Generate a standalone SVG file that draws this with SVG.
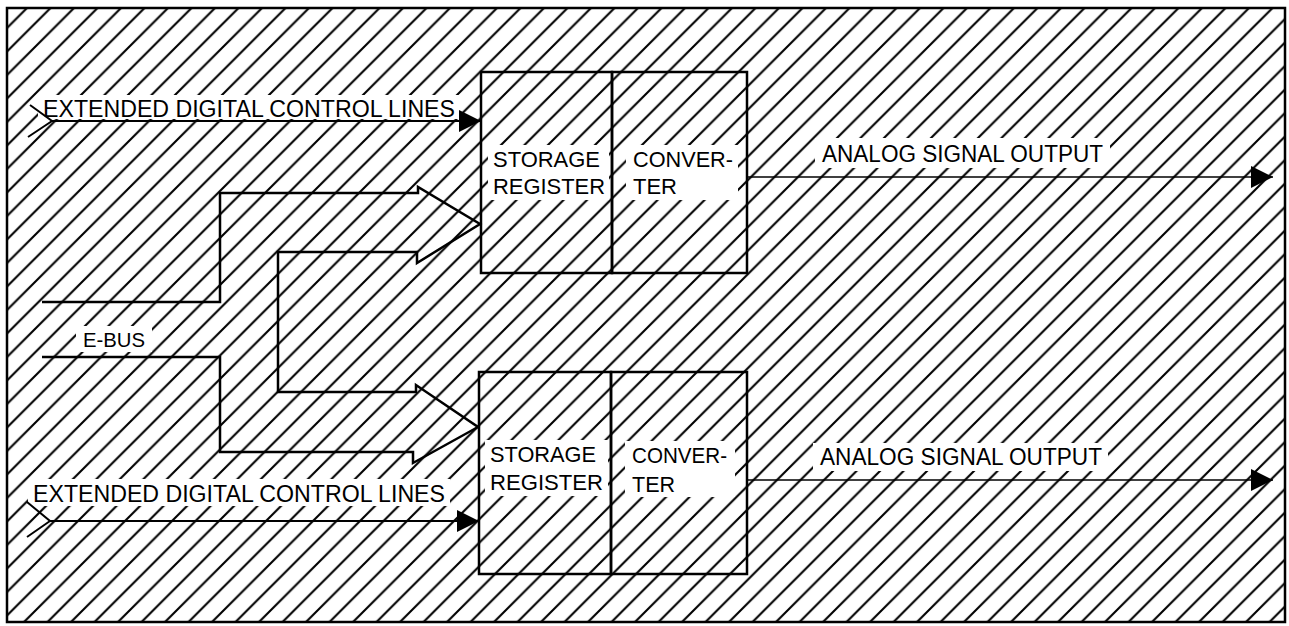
<svg xmlns="http://www.w3.org/2000/svg" width="1289" height="626" viewBox="0 0 1289 626">
<style>
.t{font-family:"Liberation Sans",Arial,Helvetica,sans-serif;fill:#000;}
.big{font-size:23px;}
.mid{font-size:22px;}
.bg{fill:#fff;stroke:none;}
.box{fill:none;stroke:#000;stroke-width:2.5;}
.bus{fill:none;stroke:#000;stroke-width:2.5;stroke-linejoin:miter;}
.ctl{fill:none;stroke:#000;stroke-width:2;}
.out{fill:none;stroke:#000;stroke-width:1.6;}
</style>
<defs>
<pattern id="hatch" patternUnits="userSpaceOnUse" x="11.5" y="0" width="23.5" height="23.5">
<path d="M-3,26.5 L26.5,-3 M-3,3 L3,-3 M20.5,26.5 L26.5,20.5" stroke="#000" stroke-width="2.1" fill="none"/>
</pattern>
<marker id="ah" markerUnits="userSpaceOnUse" viewBox="0 0 22 22" refX="22" refY="11" markerWidth="22" markerHeight="22" orient="auto">
<path d="M0,0 L22,11 L0,22 Z" fill="#000"/>
</marker>
</defs>
<rect width="1289" height="626" fill="#fff"/>
<g id="frame">
<rect x="7" y="8" width="1278" height="614" fill="url(#hatch)" stroke="none"/>
<rect class="bg" x="38" y="95" width="422" height="24"/>
<rect class="bg" x="28" y="479" width="422" height="27"/>
<rect class="bg" x="76" y="326" width="76" height="26"/>
<rect class="bg" x="815" y="138" width="295" height="30"/>
<rect class="bg" x="813" y="443" width="295" height="28"/>
<rect x="7" y="8" width="1278" height="614" fill="none" stroke="#000" stroke-width="2.5"/>
</g>
<g id="reg1">
<rect class="bg" x="488" y="145" width="121" height="55"/>
<rect class="box" x="481" y="72" width="131" height="201"/>
<text class="t mid" x="493" y="166.5" textLength="107" lengthAdjust="spacingAndGlyphs">STORAGE</text>
<text class="t mid" x="493" y="194" textLength="112" lengthAdjust="spacingAndGlyphs">REGISTER</text>
</g>
<g id="conv1">
<rect class="bg" x="626" y="145" width="112" height="55"/>
<rect class="box" x="612" y="72" width="135" height="201"/>
<text class="t mid" x="633" y="166.5" textLength="100" lengthAdjust="spacingAndGlyphs">CONVER-</text>
<text class="t mid" x="633" y="194" textLength="44" lengthAdjust="spacingAndGlyphs">TER</text>
</g>
<g id="reg2">
<rect class="bg" x="485" y="440" width="123" height="56"/>
<rect class="box" x="479" y="372" width="132" height="202"/>
<text class="t mid" x="490" y="461.5" textLength="106" lengthAdjust="spacingAndGlyphs">STORAGE</text>
<text class="t mid" x="490" y="490" textLength="113" lengthAdjust="spacingAndGlyphs">REGISTER</text>
</g>
<g id="conv2">
<rect class="bg" x="625" y="441" width="110" height="56"/>
<rect class="box" x="611" y="372" width="136" height="202"/>
<text class="t mid" x="632" y="463" textLength="95" lengthAdjust="spacingAndGlyphs">CONVER-</text>
<text class="t mid" x="632" y="491.5" textLength="43" lengthAdjust="spacingAndGlyphs">TER</text>
</g>
<g id="connectors">
<path id="ebus" class="bus" d="M42,302 L220,302 L220,193 L418,193 L418,187 L480,224 L417,263 L417,252 L278,252 L278,392 L416,392 L416,385 L478,427 L413,463 L413,452 L220,452 L220,357 L42,357"/>
<line class="ctl" x1="52" y1="121" x2="481" y2="121" marker-end="url(#ah)"/>
<polyline class="ctl" points="30,105 52,121 28,137"/>
<line class="ctl" x1="50" y1="521" x2="479" y2="521" marker-end="url(#ah)"/>
<polyline class="ctl" points="27,502 50,521 27,537"/>
<line class="out" x1="747" y1="177" x2="1273" y2="177" marker-end="url(#ah)"/>
<line class="out" x1="747" y1="480" x2="1273" y2="480" marker-end="url(#ah)"/>
</g>
<g id="labels">
<text class="t big" x="43" y="116.5" textLength="412" lengthAdjust="spacingAndGlyphs">EXTENDED DIGITAL CONTROL LINES</text>
<text class="t big" x="33" y="501.5" textLength="412" lengthAdjust="spacingAndGlyphs">EXTENDED DIGITAL CONTROL LINES</text>
<text class="t" style="font-size:21px" x="83" y="346.5" textLength="62" lengthAdjust="spacingAndGlyphs">E-BUS</text>
<text class="t big" x="822" y="161.5" textLength="281" lengthAdjust="spacingAndGlyphs">ANALOG SIGNAL OUTPUT</text>
<text class="t big" x="820" y="465" textLength="282" lengthAdjust="spacingAndGlyphs">ANALOG SIGNAL OUTPUT</text>
</g>
</svg>
